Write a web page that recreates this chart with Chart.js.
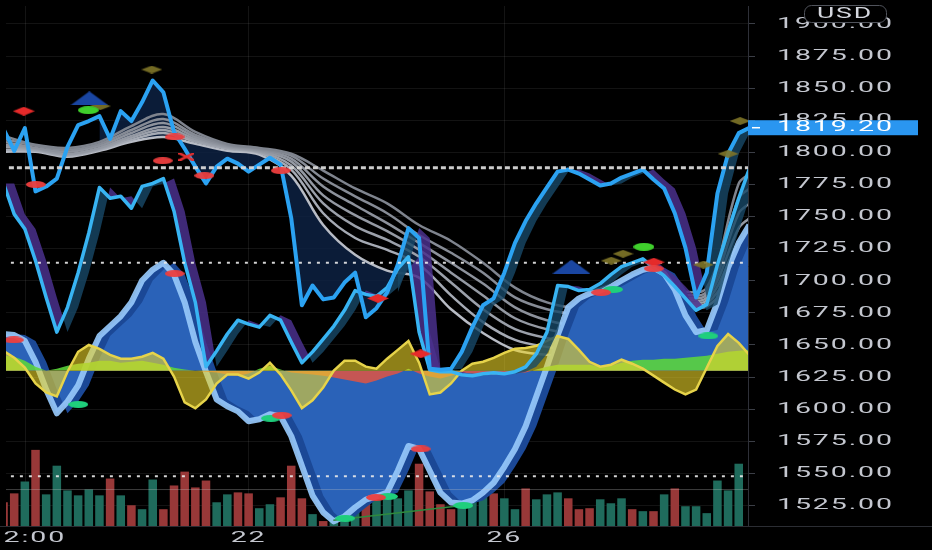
<!DOCTYPE html>
<html>
<head>
<meta charset="utf-8">
<style>
  html, body { margin: 0; padding: 0; background: #000; }
  #wrap { width: 932px; height: 550px; }
</style>
<script src="https://cdn.jsdelivr.net/npm/chart.js@4.4.1/dist/chart.umd.min.js"></script>
</head>
<body>
<div id="wrap"><canvas id="chart" width="932" height="550"></canvas></div>
<script>
// bar index runs from -1 (cut off at the left edge) to 69
const firstIdx = -1;

// upper blue line
const lineA = [1818.2, 1801.2, 1819.0, 1769.6, 1773.4, 1779.6, 1804.3, 1821.3, 1824.4, 1828.2,
  1810.5, 1832.1, 1824.4, 1839.0, 1856.0, 1846.8, 1815.9, 1802.8, 1788.9, 1775.8,
  1788.9, 1795.1, 1791.2, 1785.0, 1790.4, 1795.8, 1790.4, 1748.8, 1680.9, 1696.3,
  1685.5, 1687.0, 1698.6, 1706.3, 1671.6, 1678.6, 1690.9, 1712.5, 1741.0, 1733.3,
  1631.5, 1630.7, 1631.5, 1644.6, 1663.9, 1680.9, 1686.3, 1706.3, 1729.5, 1746.5,
  1760.3, 1772.7, 1785.0, 1786.6, 1783.5, 1778.9, 1774.2, 1775.8, 1780.4, 1783.5,
  1786.6, 1778.9, 1771.9, 1752.6, 1725.6, 1687.0, 1706.3, 1768.0, 1799.0, 1815.0, 1819.2];

// lower blue line
const lineB = [1775.8, 1751.9, 1740.3, 1715.6, 1687.0, 1660.0, 1679.3, 1706.3, 1737.2, 1772.7,
  1764.2, 1765.8, 1756.5, 1773.5, 1775.8, 1779.6, 1754.2, 1714.0, 1683.2, 1633.0,
  1645.4, 1658.5, 1669.3, 1666.2, 1663.9, 1673.1, 1669.3, 1652.3, 1636.1, 1644.6,
  1654.6, 1664.7, 1677.0, 1692.4, 1689.4, 1687.8, 1694.7, 1709.4, 1718.7, 1660.0,
  1630.7, 1629.2, 1629.2, 1626.8, 1626.0, 1627.6, 1628.4, 1627.6, 1629.2, 1633.0,
  1643.0, 1660.0, 1696.3, 1695.5, 1692.4, 1693.2, 1697.8, 1704.8, 1711.0, 1714.0,
  1717.1, 1710.2, 1704.0, 1695.5, 1686.3, 1677.0, 1681.6, 1712.5, 1738.7, 1764.2, 1787.3];

// edge of the big blue area (filled to the baseline)
const cloudEdge = [1658.5, 1657.7, 1653.1, 1636.9, 1615.3, 1596.8, 1606.0, 1618.4, 1639.2, 1657.0,
  1664.7, 1672.4, 1683.2, 1700.2, 1708.6, 1714.0, 1704.8, 1683.2, 1652.3, 1629.2,
  1607.6, 1602.2, 1598.3, 1590.6, 1592.1, 1596.0, 1594.4, 1579.0, 1555.9, 1532.7,
  1519.6, 1512.6, 1516.5, 1523.5, 1529.6, 1532.0, 1535.0, 1552.0, 1571.3, 1569.0,
  1552.0, 1535.0, 1527.3, 1526.5, 1528.9, 1535.0, 1542.7, 1555.1, 1569.0, 1586.7,
  1609.9, 1633.0, 1657.7, 1679.3, 1686.3, 1690.1, 1692.4, 1695.5, 1700.2, 1704.8,
  1708.6, 1710.2, 1705.6, 1693.2, 1673.1, 1660.0, 1661.6, 1683.2, 1710.2, 1729.5, 1743.4];
const cloudBase = 1630;

// oscillators drawn around the 1630 baseline (points above / below it)
const yellowOsc = [15.4, 10, 2.3, -10, -17, -20, -0.8, 14.7, 20, 17,
  12.3, 9.3, 9.3, 10.8, 13.9, 9.3, -4.6, -24.7, -29.3, -22.4,
  -10, -3.1, -3.1, -6.2, -1.5, 6.2, -3.1, -15.4, -29.3, -23.1,
  -13.1, 0, 7.7, 7.7, 3.1, 1.5, 9.3, 16.2, 23.1, 6.2,
  -18.5, -17, -10, 0, 5.4, 6.9, 10, 13.9, 17, 17.7,
  19.3, 23.1, 27, 24.7, 16.2, 6.9, 3.1, 4.6, 8.5, 5.4,
  1.5, -3.9, -9.3, -14.7, -18.5, -14.7, 2.3, 19.3, 28.5, 21.6, 12.3];
const histOsc = [11.6, 10.8, 7.7, 3.1, 0, 1.5, 3.9, 5.4, 6.2, 7.7,
  7.7, 6.2, 6.9, 7.7, 6.2, 4.6, 2.3, 0.8, 0, -0.8,
  -1.5, -3.1, -3.9, -2.3, 1.5, 3.9, 0.8, -1.5, -2.3, -3.1,
  -3.9, -5.4, -6.9, -8.5, -10, -7.7, -4.6, -2.3, 1.5, -2.3,
  -4.6, -6.2, -3.9, -1.5, -2.3, -3.1, -3.1, -2.3, -1.5, -1.5,
  0.8, 3.1, 4.6, 4.6, 4.6, 4.6, 3.1, 3.9, 6.2, 7.7,
  8.5, 8.5, 9.3, 9.3, 10, 10.8, 11.6, 13.1, 14.7, 15.4, 16.2];

// moving-average ribbon, read every third bar
const maKnots = [-1, 2, 5, 8, 11, 14, 17, 20, 23, 26, 29, 32, 35, 38, 41, 44, 47, 50, 53, 56, 59, 62, 65, 68, 69];
const ma1 = [1812.8, 1805.9, 1803.5, 1808.2, 1820.5, 1829.8, 1815.9, 1806.6, 1803.5, 1798.9, 1785.8, 1771.9, 1760.3, 1743.4, 1731.0, 1714.0, 1694.7, 1683.2, 1678.6, 1680.1, 1683.2, 1690.9, 1694.7, 1775.8, 1783.5];
const ma2 = [1810.5, 1805.1, 1802.0, 1806.6, 1817.4, 1825.9, 1813.6, 1805.9, 1802.8, 1797.4, 1779.6, 1765.8, 1752.6, 1735.6, 1721.8, 1706.3, 1687.0, 1677.8, 1673.9, 1675.5, 1679.3, 1688.6, 1691.7, 1764.2, 1771.9];
const ma3 = [1808.2, 1803.5, 1800.5, 1805.1, 1815.1, 1822.8, 1812.0, 1805.1, 1802.0, 1795.1, 1773.5, 1758.8, 1744.9, 1729.5, 1714.0, 1697.8, 1679.3, 1669.3, 1665.4, 1669.3, 1673.9, 1686.3, 1689.4, 1752.6, 1760.3];
const ma4 = [1805.9, 1802.8, 1798.9, 1803.5, 1812.8, 1819.7, 1810.5, 1804.3, 1801.2, 1792.8, 1766.5, 1751.1, 1738.7, 1724.1, 1706.3, 1688.6, 1670.8, 1662.3, 1659.3, 1663.1, 1669.3, 1684.7, 1687.0, 1741.0, 1748.8];
const ma5 = [1804.3, 1802.0, 1798.2, 1802.8, 1811.3, 1817.4, 1809.0, 1803.5, 1800.5, 1789.7, 1760.3, 1742.6, 1731.8, 1718.7, 1698.6, 1677.8, 1662.3, 1655.4, 1652.3, 1657.0, 1664.7, 1683.2, 1684.7, 1729.5, 1737.2];
const ma6 = [1802.0, 1801.2, 1797.4, 1802.0, 1809.7, 1815.1, 1808.2, 1802.8, 1799.7, 1786.6, 1752.6, 1733.3, 1724.1, 1712.5, 1688.6, 1667.8, 1653.9, 1648.5, 1646.1, 1650.8, 1660.0, 1681.6, 1682.4, 1717.9, 1725.6];
const ma7 = [1800.5, 1800.5, 1796.6, 1801.2, 1808.2, 1812.0, 1806.6, 1801.2, 1798.2, 1781.9, 1743.4, 1720.2, 1707.9, 1702.5, 1677.8, 1659.3, 1646.1, 1642.3, 1640.0, 1644.6, 1655.4, 1680.1, 1680.1, 1706.3, 1714.0];
const maColors = ['#7f848e', '#868b95', '#8d929c', '#9499a3', '#9ba0aa', '#a5aab4', '#b8bcc5'];
const navySpan = [8, 38];
const bandStartA = 36; // upper line shows its trailing band only from here on

// volume, bars -1..68
const volume = [24, 33, 45, 77, 32, 61, 36, 31, 37, 31, 48, 31, 21, 17, 47, 17, 41, 55, 39, 46,
  24, 32, 34, 33, 18, 22, 29, 61, 28, 12, 5, 7, 12, 22, 27, 26, 27, 28, 36, 63,
  35, 22, 17, 20, 25, 30, 33, 28, 17, 38, 27, 32, 34, 28, 17, 18, 27, 23, 28, 17,
  15, 15, 32, 38, 20, 20, 13, 46, 36, 63];
const volUp = [0, 0, 1, 0, 1, 1, 1, 1, 1, 1, 0, 1, 0, 1, 1, 0, 0, 0, 0, 0,
  1, 1, 0, 0, 1, 1, 0, 0, 0, 1, 0, 1, 1, 1, 0, 1, 1, 1, 1, 0,
  0, 0, 0, 1, 1, 1, 0, 1, 1, 0, 1, 1, 1, 0, 0, 0, 1, 1, 1, 0,
  1, 0, 1, 0, 1, 1, 1, 1, 1, 1];

// horizontal levels
const levelThick = 1788;
const levelDotted = [1714, 1547.7];
const levelFaint = 1537.4;

// signal markers [bar, price]
const redDots = [[2.02, 1775.0], [13.94, 1793.5], [15.06, 1812.0], [17.85, 1781.9], [25.02, 1785.8], [15.06, 1705.6],
  [-0.03, 1653.9], [25.11, 1595.2], [33.96, 1531.2], [38.15, 1569.0], [55.09, 1690.9], [60.03, 1709.5]];
const redDiamonds = [[0.9, 1832.1], [34.14, 1686.3], [38.15, 1643.1], [60.03, 1714.5]];
const redCross = [[16.17, 1796.6]];
const limeDots = [[6.96, 1832.9], [59.1, 1726.4]];
const greenDots = [[6.02, 1603.7], [24.09, 1592.9], [31.07, 1515.0], [35.08, 1532.0], [42.15, 1525.0], [56.21, 1693.2], [65.15, 1657.0]];
const blueTriangles = [[7.05, 1842.1], [52.3, 1711.0]];
const oliveDiamonds = [[12.91, 1864.5], [8.07, 1836.0], [56.03, 1715.6], [57.14, 1721.0], [64.68, 1712.5], [67.01, 1798.9], [68.13, 1824.4]];
const trendLine = [[29.95, 1513.4], [42.06, 1525.0]];

// axes
const priceTicks = [1525, 1550, 1575, 1600, 1625, 1650, 1675, 1700, 1725, 1750, 1775, 1800, 1825, 1850, 1875, 1900];
const timeTickPos = [1.1, 22, 46];
const timeTickLabels = ['12:00', '22', '26'];
const lastPrice = 1819.2;
const xMin = -0.77, xMax = 68.87;
const yMin = 1509, yMax = 1914;
const STRETCH = 1.9;

const pts = (arr, start) => arr.map((v, k) => ({ x: start + k, y: v }));
const pairs = arr => arr.map(p => ({ x: p[0], y: p[1] }));
// previous bar's value, used for the trailing bands
const lag = arr => arr.map((v, k) => (k ? arr[k - 1] : v));

function markImg(kind, color, w, h) {
  const c = document.createElement('canvas');
  c.width = w; c.height = h;
  const g = c.getContext('2d');
  g.fillStyle = color;
  g.beginPath();
  if (kind === 'ellipse') {
    g.ellipse(w / 2, h / 2, w / 2, h / 2, 0, 0, Math.PI * 2);
  } else if (kind === 'diamond') {
    g.moveTo(w / 2, 0); g.lineTo(w, h / 2); g.lineTo(w / 2, h); g.lineTo(0, h / 2); g.closePath();
  } else if (kind === 'triangle') {
    g.moveTo(w / 2, 0); g.lineTo(w, h); g.lineTo(0, h); g.closePath();
  } else if (kind === 'cross') {
    g.strokeStyle = color; g.lineWidth = 2.5;
    g.moveTo(0, 0); g.lineTo(w, h); g.moveTo(w, 0); g.lineTo(0, h);
    g.stroke();
    return c;
  }
  g.fill();
  return c;
}

const ds = [];
function add(d) {
  ds.push(Object.assign({ pointRadius: 0, pointHoverRadius: 0, borderWidth: 0, fill: false, tension: 0, xAxisID: 'x', yAxisID: 'y' }, d));
  return ds.length - 1;
}

// ribbon lines
const maSets = [ma1, ma2, ma3, ma4, ma5, ma6, ma7];
let idxMa7 = 0;
maSets.forEach((m, k) => {
  idxMa7 = add({ data: maKnots.map((x, j) => ({ x, y: m[j] })), borderColor: maColors[k], borderWidth: 2.5, tension: 0.35, order: 90 });
});

// main blue lines
const idxA = add({ data: pts(lineA, firstIdx), borderColor: '#2ba2f2', borderWidth: 4, borderJoinStyle: 'round', order: 35 });
const idxB = add({ data: pts(lineB, firstIdx), borderColor: '#38b4f3', borderWidth: 3.5, borderJoinStyle: 'round', order: 40 });

// dark fill between the upper line and the ribbon
add({
  data: pts(lineA.map((v, k) => (k + firstIdx >= navySpan[0] && k + firstIdx <= navySpan[1] ? v : null)), firstIdx),
  fill: { target: idxMa7 }, backgroundColor: 'rgba(14,34,68,0.82)', spanGaps: false, order: 100
});

// trailing bands of the blue lines
add({
  data: pts(lag(lineA).map((v, k) => (k + firstIdx >= bandStartA ? v : null)), firstIdx),
  fill: { target: idxA, above: 'rgba(74,48,140,0.85)', below: 'rgba(24,72,104,0.8)' }, spanGaps: false, order: 50
});
add({ data: pts(lag(lineB), firstIdx), fill: { target: idxB, above: 'rgba(74,48,140,0.85)', below: 'rgba(24,72,104,0.8)' }, order: 49 });

// volume
add({
  type: 'bar', yAxisID: 'vol', data: pts(volume, firstIdx),
  backgroundColor: volUp.map(u => (u ? '#1f6b5c' : '#983838')),
  barPercentage: 1, categoryPercentage: 0.8, order: 98
});

// blue area
const idxCloud = add({ data: pts(cloudEdge, firstIdx), fill: { value: cloudBase }, backgroundColor: '#2a62b8', order: 85 });
add({ data: pts(lag(cloudEdge), firstIdx), fill: { target: idxCloud }, backgroundColor: '#1b4896', order: 84 });
add({ data: pts(cloudEdge, firstIdx), borderColor: 'rgba(150,200,250,0.92)', borderWidth: 6, borderJoinStyle: 'round', order: 83 });

// oscillators
add({
  yAxisID: 'osc', data: pts(histOsc, firstIdx),
  fill: { target: 'origin', above: 'rgba(92,214,58,0.88)', below: 'rgba(232,84,62,0.82)' }, order: 60
});
add({
  yAxisID: 'osc', data: pts(yellowOsc, firstIdx), fill: 'origin',
  backgroundColor: 'rgba(236,214,40,0.6)', borderColor: '#e6d34a', borderWidth: 2.5, order: 55
});

// levels
add({ data: [{ x: -2, y: levelThick }, { x: 70, y: levelThick }], borderColor: 'rgba(215,215,215,0.95)', borderWidth: 3, borderDash: [5, 3], order: 20 });
levelDotted.forEach(v => add({ data: [{ x: -2, y: v }, { x: 70, y: v }], borderColor: 'rgba(235,235,235,0.9)', borderWidth: 2, borderDash: [3, 6], order: 20 }));
add({ data: [{ x: -2, y: levelFaint }, { x: 70, y: levelFaint }], borderColor: 'rgba(200,200,200,0.3)', borderWidth: 1, order: 21 });
add({ data: pairs(trendLine), borderColor: '#2f8a3e', borderWidth: 1.5, order: 19 });

// markers
function markers(list, img) {
  add({ data: pairs(list), showLine: false, pointStyle: img, pointRadius: 6, order: 10 });
}
markers(redDots, markImg('ellipse', 'rgba(236,62,62,0.95)', 20, 7));
markers(redDiamonds, markImg('diamond', '#e52a2a', 22, 9));
markers(redCross, markImg('cross', '#e53030', 16, 8));
markers(limeDots, markImg('ellipse', '#3fcf2c', 21, 8));
markers(greenDots, markImg('ellipse', '#1fcf7c', 20, 7));
markers(blueTriangles, markImg('triangle', '#1a46a2', 38, 14));
markers(oliveDiamonds, markImg('diamond', 'rgba(128,118,40,0.9)', 21, 8));

const axisText = {
  id: 'axisText',
  afterDraw(chart) {
    const { ctx, chartArea, scales } = chart;
    const y = scales.y, x = scales.x;
    ctx.save();
    ctx.strokeStyle = '#2b2d33';
    ctx.lineWidth = 1;
    ctx.beginPath();
    ctx.moveTo(0, chartArea.bottom + 0.5);
    ctx.lineTo(chart.width, chartArea.bottom + 0.5);
    ctx.stroke();

    if ('letterSpacing' in ctx) ctx.letterSpacing = '1px';
    ctx.textBaseline = 'middle';
    const wide = (txt, px, py, align, font, color) => {
      ctx.save();
      ctx.translate(px, py);
      ctx.scale(STRETCH, 1);
      ctx.font = font;
      ctx.fillStyle = color;
      ctx.textAlign = align;
      ctx.fillText(txt, 0, 0);
      ctx.restore();
    };
    const labelX = chartArea.right + 29;
    y.ticks.forEach(t => wide(t.value.toFixed(2), labelX, y.getPixelForValue(t.value), 'left', '15px Roboto', '#c4c7cf'));
    timeTickPos.forEach((p, k) => wide(timeTickLabels[k], x.getPixelForValue(p), chartArea.bottom + 12, 'center', '15px Roboto', '#c4c7cf'));

    // currency badge
    ctx.beginPath();
    ctx.roundRect(804.5, 5.5, 82, 17, 7);
    ctx.fillStyle = '#000';
    ctx.fill();
    ctx.strokeStyle = '#50535b';
    ctx.stroke();
    wide('USD', 845, 14, 'center', '14px Roboto', '#d4d7de');

    // last price tag
    const py = y.getPixelForValue(lastPrice);
    ctx.fillStyle = '#2a96f0';
    ctx.fillRect(chartArea.right, py - 7.5, 170, 15);
    ctx.strokeStyle = '#fff';
    ctx.lineWidth = 1.5;
    ctx.beginPath();
    ctx.moveTo(chartArea.right + 4, py);
    ctx.lineTo(chartArea.right + 12, py);
    ctx.stroke();
    wide(lastPrice.toFixed(2), labelX, py, 'left', '15px Roboto', '#ffffff');
    ctx.restore();
  }
};

new Chart(document.getElementById('chart'), {
  type: 'line',
  data: { datasets: ds },
  options: {
    responsive: false,
    animation: false,
    events: [],
    layout: { padding: { left: 0, top: 0, right: 0, bottom: 24 } },
    plugins: { legend: { display: false }, tooltip: { enabled: false } },
    scales: {
      x: {
        type: 'linear', axis: 'x', min: xMin, max: xMax, offset: false,
        afterBuildTicks: s => { s.ticks = timeTickPos.map(v => ({ value: v })); },
        ticks: { display: false },
        grid: { color: 'rgba(255,255,255,0.08)', drawTicks: false, offset: false },
        border: { display: false }
      },
      y: {
        type: 'linear', axis: 'y', position: 'right', min: yMin, max: yMax,
        afterBuildTicks: s => { s.ticks = priceTicks.map(v => ({ value: v })); },
        afterFit: s => { s.width = 184; },
        ticks: { display: false },
        grid: { color: 'rgba(255,255,255,0.075)', drawTicks: true, tickLength: 7, tickColor: '#3b3e46' },
        border: { color: '#2e3038' }
      },
      osc: { type: 'linear', axis: 'y', position: 'left', display: false, min: yMin - cloudBase, max: yMax - cloudBase },
      vol: { type: 'linear', axis: 'y', position: 'left', display: false, min: 0, max: 526 }
    }
  },
  plugins: [axisText]
});
</script>
</body>
</html>
